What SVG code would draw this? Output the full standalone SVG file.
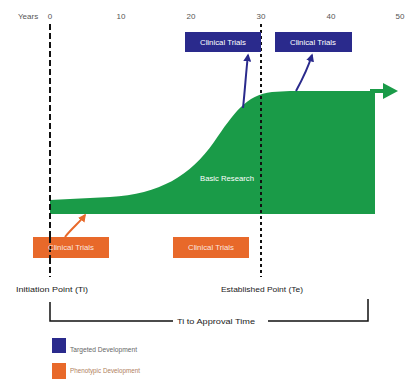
<svg xmlns="http://www.w3.org/2000/svg" width="407" height="382" viewBox="0 0 407 382">
<defs>
<style>
.t{font-family:"Liberation Sans",Arial,sans-serif;}
.axis{font-size:8px;fill:#555;}
.lbl{font-size:8px;fill:#222;}
.box{font-size:8px;fill:#fff;}
.blue{fill:#2a2a8c;}
.orange{fill:#e8692a;}
.green{fill:#1a9b48;}
</style>
<marker id="ab" viewBox="0 0 10 10" refX="8" refY="5" markerWidth="4" markerHeight="4" orient="auto"><path d="M0,0 L10,5 L0,10 z" fill="#2a2a8c"/></marker>
<marker id="ao" viewBox="0 0 10 10" refX="8" refY="5" markerWidth="4" markerHeight="4" orient="auto"><path d="M0,0 L10,5 L0,10 z" fill="#e8692a"/></marker>
</defs>
<rect width="407" height="382" fill="#fff"/>
<g id="axis" class="t axis">
<text x="18" y="19">Years</text>
<text x="50" y="19" text-anchor="middle">0</text>
<text x="121" y="19" text-anchor="middle">10</text>
<text x="191" y="19" text-anchor="middle">20</text>
<text x="261" y="19" text-anchor="middle">30</text>
<text x="331" y="19" text-anchor="middle">40</text>
<text x="400" y="19" text-anchor="middle">50</text>
</g>
<g id="basic-research">
<path class="green" d="M50,200 L110,197 C160,194 190,176 214,142 C234,113 246,95 272,92 L290,91 L375,91 L375,214 L50,214 Z"/>
<path d="M370,91 L386,91" stroke="#1a9b48" stroke-width="4"/>
<path class="green" d="M383,83 L398,91 L383,99 Z"/>
<text class="t box" x="227" y="181" text-anchor="middle" textLength="54" lengthAdjust="spacingAndGlyphs">Basic Research</text>
</g>
<g id="connectors" fill="none">
<path d="M50,24 L50,277" stroke="#111" stroke-width="2" stroke-dasharray="6,3"/>
<path d="M261,24 L261,277" stroke="#111" stroke-width="2" stroke-dasharray="3,3"/>
<path d="M243,108 C245,90 246,72 248,55" stroke="#2a2a8c" stroke-width="2" marker-end="url(#ab)"/>
<path d="M296,91 C302,80 308,68 312,55" stroke="#2a2a8c" stroke-width="2" marker-end="url(#ab)"/>
<path d="M65,237 C72,228 80,222 85,215" stroke="#e8692a" stroke-width="2" marker-end="url(#ao)"/>
<path d="M50,302 L50,321 L173,321 M268,321 L368,321 L368,299" stroke="#111" stroke-width="1.5"/>
</g>
<g id="ct-blue-1">
<rect class="blue" x="185" y="32" width="76" height="20"/>
<text class="t box" x="223" y="45" text-anchor="middle" textLength="46" lengthAdjust="spacingAndGlyphs">Clinical Trials</text>
</g>
<g id="ct-blue-2">
<rect class="blue" x="275" y="32" width="77" height="20"/>
<text class="t box" x="313" y="45" text-anchor="middle" textLength="46" lengthAdjust="spacingAndGlyphs">Clinical Trials</text>
</g>
<g id="ct-orange-1">
<rect class="orange" x="33" y="237" width="76" height="21"/>
<path d="M50,237 L50,258" stroke="#111" stroke-width="2" stroke-dasharray="6,3"/>
<text class="t box" x="71" y="250" text-anchor="middle" textLength="46" lengthAdjust="spacingAndGlyphs" fill-opacity="0.85">Clinical Trials</text>
</g>
<g id="ct-orange-2">
<rect class="orange" x="173" y="237" width="76" height="21"/>
<text class="t box" x="211" y="250" text-anchor="middle" textLength="46" lengthAdjust="spacingAndGlyphs" fill-opacity="0.85">Clinical Trials</text>
</g>
<g id="initiation" class="t lbl">
<text x="16" y="292" textLength="72" lengthAdjust="spacingAndGlyphs">Initiation Point (Ti)</text>
</g>
<g id="established" class="t lbl">
<text x="221" y="292" textLength="82" lengthAdjust="spacingAndGlyphs">Established Point (Te)</text>
</g>
<g id="approval" class="t lbl">
<text x="177" y="324" textLength="78" lengthAdjust="spacingAndGlyphs">Ti to Approval Time</text>
</g>
<g id="legend" class="t">
<rect class="blue" x="52" y="338" width="14" height="15"/>
<text x="70" y="352" font-size="6.5" fill="#666" textLength="67" lengthAdjust="spacingAndGlyphs">Targeted Development</text>
<rect class="orange" x="52" y="363" width="14" height="16"/>
<text x="70" y="373" font-size="6.5" fill="#b08060" textLength="70" lengthAdjust="spacingAndGlyphs">Phenotypic Development</text>
</g>
</svg>
